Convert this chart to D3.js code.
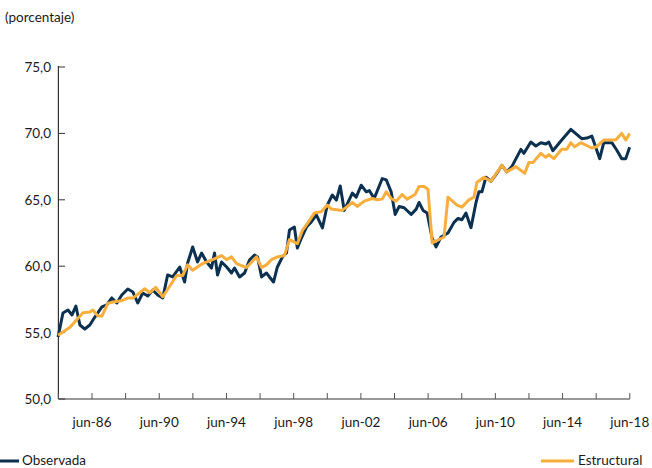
<!DOCTYPE html>
<html><head><meta charset="utf-8">
<script src="https://cdn.jsdelivr.net/npm/d3@7"></script>
<style>body{margin:0;background:#fff}text{font-family:Lato,"Open Sans",sans-serif;fill:#1a1a1a}</style>
</head><body><svg id="c" width="652" height="468"></svg>
<script>
const obsYears=[1984.48,1984.77,1985.07,1985.31,1985.54,1985.78,1986.07,1986.37,1986.67,1987.09,1987.38,1987.68,1987.98,1988.27,1988.63,1988.93,1989.22,1989.52,1989.82,1990.11,1990.41,1990.71,1991.0,1991.30,1991.72,1992.01,1992.19,1992.49,1992.78,1993.02,1993.32,1993.61,1993.79,1993.97,1994.21,1994.51,1994.80,1994.98,1995.28,1995.58,1995.87,1996.17,1996.35,1996.59,1996.88,1997.06,1997.30,1997.53,1997.83,1998.07,1998.25,1998.54,1998.72,1998.96,1999.26,1999.55,1999.85,2000.21,2000.50,2000.80,2001.04,2001.27,2001.51,2001.99,2002.22,2002.52,2002.82,2003.0,2003.29,2003.77,2004.01,2004.30,2004.54,2004.78,2005.07,2005.49,2005.79,2005.96,2006.20,2006.44,2006.74,2006.97,2007.27,2007.68,2008.04,2008.28,2008.51,2008.75,2009.05,2009.35,2009.52,2009.70,2009.94,2010.24,2010.59,2010.89,2011.18,2011.48,2012.02,2012.20,2012.61,2012.91,2013.21,2013.50,2013.68,2013.92,2014.45,2014.99,2015.64,2015.94,2016.24,2016.71,2016.95,2017.43,2017.72,2018.02,2018.26,2018.49];
const obsValues=[54.67,56.48,56.70,56.33,57.0,55.57,55.27,55.57,56.17,56.93,57.08,57.61,57.23,57.83,58.28,58.06,57.23,57.98,57.76,58.21,57.83,57.61,59.34,59.19,59.94,58.81,60.24,61.45,60.32,60.99,60.32,59.86,60.99,59.34,60.32,59.94,59.49,59.86,59.19,59.49,60.47,60.84,60.69,59.19,59.49,59.19,58.81,59.94,60.69,60.99,62.73,62.95,61.37,62.12,62.95,63.33,63.86,62.88,64.61,65.36,64.98,66.04,64.2,65.5,65.2,66.1,65.6,65.7,65.1,66.6,66.5,65.6,63.9,64.5,64.4,63.9,64.3,64.8,64.2,64.0,62.1,61.45,62.2,62.5,63.3,63.6,63.5,64.0,62.9,64.8,65.6,65.6,66.7,66.4,67.0,67.6,67.1,67.5,68.8,68.5,69.35,69.05,69.3,69.2,69.35,68.7,69.5,70.3,69.6,69.65,69.8,68.1,69.3,69.3,68.75,68.1,68.1,68.95];
const estYears=[1984.48,1985.19,1985.96,1986.38,1986.55,1986.85,1987.09,1987.44,1987.74,1988.27,1988.63,1988.93,1989.64,1989.94,1990.29,1990.71,1991.54,1991.89,1992.19,1992.49,1993.08,1993.68,1994.21,1994.51,1994.80,1995.10,1995.69,1996.29,1996.59,1996.88,1997.18,1997.53,1997.95,1998.25,1998.72,1999.02,1999.31,1999.73,2000.14,2000.50,2000.74,2001.39,2001.99,2002.28,2002.70,2003.17,2003.47,2003.77,2004.01,2004.30,2004.60,2004.95,2005.25,2005.72,2005.96,2006.26,2006.49,2006.74,2007.45,2007.68,2008.22,2008.51,2008.93,2009.23,2009.40,2009.82,2010.24,2010.89,2011.18,2011.72,2012.25,2012.49,2012.73,2013.21,2013.50,2013.68,2013.98,2014.45,2014.75,2014.99,2015.22,2015.58,2016.24,2016.53,2016.95,2017.66,2018.02,2018.26,2018.49];
const estValues=[54.8,55.4,56.5,56.55,56.7,56.25,56.25,57.2,57.3,57.4,57.6,57.6,58.3,58.0,58.4,57.7,59.3,59.3,60.1,59.7,60.2,60.5,60.8,60.5,60.7,60.2,59.9,60.7,59.9,60.1,60.5,60.7,60.8,62.0,61.7,62.7,63.2,64.0,64.1,64.6,64.3,64.2,64.8,64.5,64.9,65.1,65.0,65.05,65.6,65.1,64.9,65.4,65.05,65.4,66.0,66.0,65.8,61.75,62.2,65.2,64.6,64.45,65.0,65.2,66.3,66.7,66.4,67.6,67.1,67.5,67.0,67.8,67.8,68.5,68.2,68.4,68.1,68.8,68.8,69.3,69.0,69.3,68.9,69.0,69.5,69.5,70.0,69.5,70.0];
const xTickYears=[1984.5,1986.5,1988.5,1990.5,1992.5,1994.5,1996.5,1998.5,2000.5,2002.5,2004.5,2006.5,2008.5,2010.5,2012.5,2014.5,2016.5,2018.5];
const xLabels=[[1986.5,"jun-86"],[1990.5,"jun-90"],[1994.5,"jun-94"],[1998.5,"jun-98"],[2002.5,"jun-02"],[2006.5,"jun-06"],[2010.5,"jun-10"],[2014.5,"jun-14"],[2018.5,"jun-18"]];
const yTicks=[50,55,60,65,70,75];

const svg=d3.select("#c");
const x=d3.scaleLinear().domain([1984.5,2018.5]).range([58.4,629.8]);
const y=d3.scaleLinear().domain([50,75]).range([399,67]);
const g=svg.append("g");
g.append("line").attr("x1",58.4).attr("x2",58.4).attr("y1",y(75)-1).attr("y2",y(50)).attr("stroke","#333").attr("stroke-width",1.2);
yTicks.forEach(v=>{
  g.append("line").attr("x1",58.4).attr("x2",65).attr("y1",y(v)).attr("y2",y(v)).attr("stroke","#333");
  g.append("text").attr("x",51).attr("y",y(v)+5).attr("text-anchor","end").attr("font-size",13.5).text(d3.format(".1f")(v).replace(".",","));
});
g.append("line").attr("x1",58.4).attr("x2",629.8).attr("y1",y(50)).attr("y2",y(50)).attr("stroke","#333").attr("stroke-width",1.2);
xTickYears.forEach(t=>g.append("line").attr("x1",x(t)).attr("x2",x(t)).attr("y1",y(50)).attr("y2",y(50)-6).attr("stroke","#555"));
xLabels.forEach(([t,l])=>g.append("text").attr("x",x(t)).attr("y",427).attr("text-anchor","middle").attr("font-size",13.5).text(l));
svg.append("text").attr("x",5).attr("y",22).attr("font-size",13.5).text("(porcentaje)");
const line=d3.line().x(d=>x(d[0])).y(d=>y(d[1]));
svg.append("path").datum(d3.zip(obsYears,obsValues)).attr("d",line).attr("fill","none").attr("stroke","#0c3050").attr("stroke-width",3).attr("stroke-linejoin","round");
svg.append("path").datum(d3.zip(estYears,estValues)).attr("d",line).attr("fill","none").attr("stroke","#f8ae3d").attr("stroke-width",3).attr("stroke-linejoin","round");
svg.append("line").attr("x1",0).attr("x2",19).attr("y1",461).attr("y2",461).attr("stroke","#0c3050").attr("stroke-width",3);
svg.append("text").attr("x",22).attr("y",465).attr("font-size",13.5).text("Observada");
svg.append("line").attr("x1",541).attr("x2",574).attr("y1",461).attr("y2",461).attr("stroke","#f8ae3d").attr("stroke-width",3);
svg.append("text").attr("x",578).attr("y",465).attr("font-size",13.5).text("Estructural");
</script></body></html>
